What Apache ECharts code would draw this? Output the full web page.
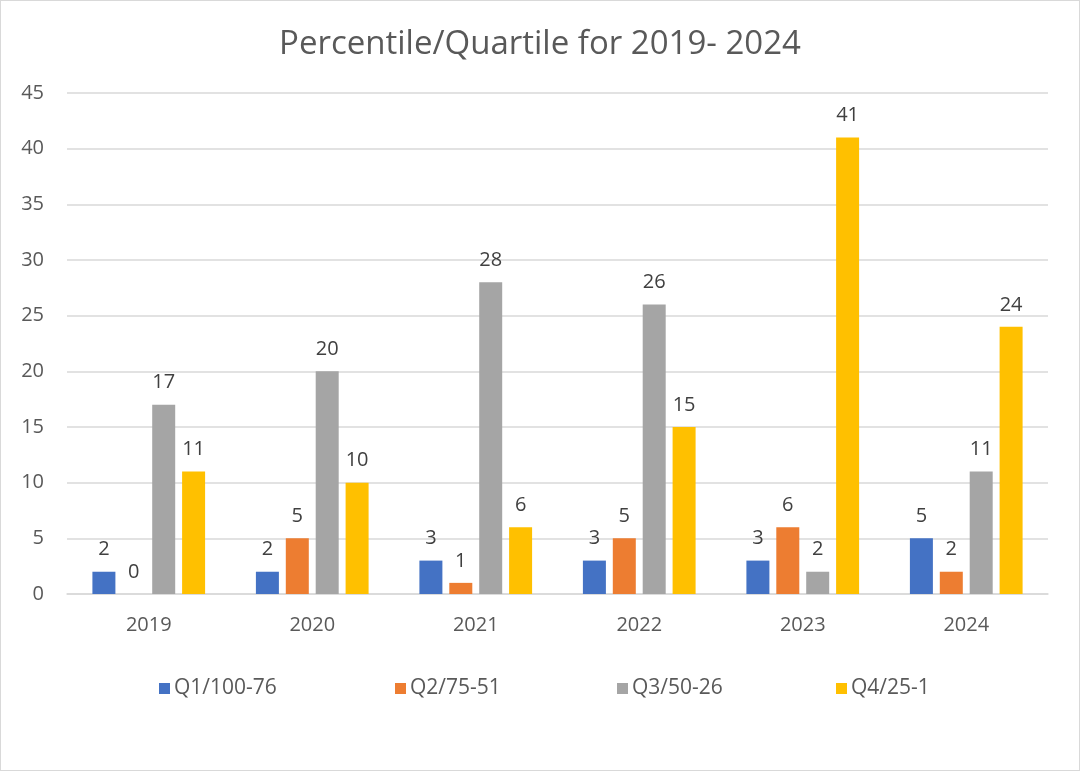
<!DOCTYPE html>
<html><head><meta charset="utf-8">
<script src="https://cdn.jsdelivr.net/npm/echarts@6/dist/echarts.min.js"></script>
<style>
html,body{margin:0;padding:0;background:#fff;}
#c{position:absolute;left:0;top:0;width:1078px;height:769px;border:1px solid #d9d9d9;}
</style></head>
<body><div id="c"></div>
<script>
const categories = ['2019','2020','2021','2022','2023','2024'];
const seriesNames = ['Q1/100-76','Q2/75-51','Q3/50-26','Q4/25-1'];
const q1 = [2,2,3,3,3,5];
const q2 = [0,5,1,5,6,2];
const q3 = [17,20,28,26,2,11];
const q4 = [11,10,6,15,41,24];
const colors = ['#4472C4','#ED7D31','#A5A5A5','#FFC000'];
const font = '"Open Sans", "Liberation Sans", sans-serif';
const chart = echarts.init(document.getElementById('c'));
const data = [q1,q2,q3,q4];
const legendLefts = [158,394,616,835];
chart.setOption({
  animation:false,
  textStyle:{fontFamily:font},
  title:{text:'Percentile/Quartile for 2019- 2024',left:'center',top:22,
    textStyle:{fontFamily:font,fontSize:33,fontWeight:'normal',color:'#595959'}},
  grid:{left:66,right:31,top:92,bottom:176},
  legend:seriesNames.map((n,i)=>({data:[n],left:legendLefts[i],top:677,padding:0,
    itemWidth:11,itemHeight:11,itemGap:6,icon:'rect',
    textStyle:{fontFamily:font,fontSize:21,color:'#595959',padding:[0,0,0,-1]}})),
  xAxis:{type:'category',data:categories,
    axisLine:{lineStyle:{color:'#d9d9d9',width:1.5}},axisTick:{show:false},
    axisLabel:{color:'#595959',fontSize:20,margin:21,fontFamily:font}},
  yAxis:{type:'value',min:0,max:45,interval:5,
    axisLine:{show:false},axisTick:{show:false},
    splitLine:{lineStyle:{color:'#d9d9d9',width:1.5}},
    axisLabel:{color:'#595959',fontSize:20,margin:23,fontFamily:font}},
  series:data.map((d,i)=>({
    name:seriesNames[i],type:'bar',data:d,barWidth:23,barGap:'30%',
    itemStyle:{color:colors[i]},
    label:{show:true,position:'top',distance:12,color:'#404040',fontSize:20,fontFamily:font}
  }))
});
</script></body></html>
